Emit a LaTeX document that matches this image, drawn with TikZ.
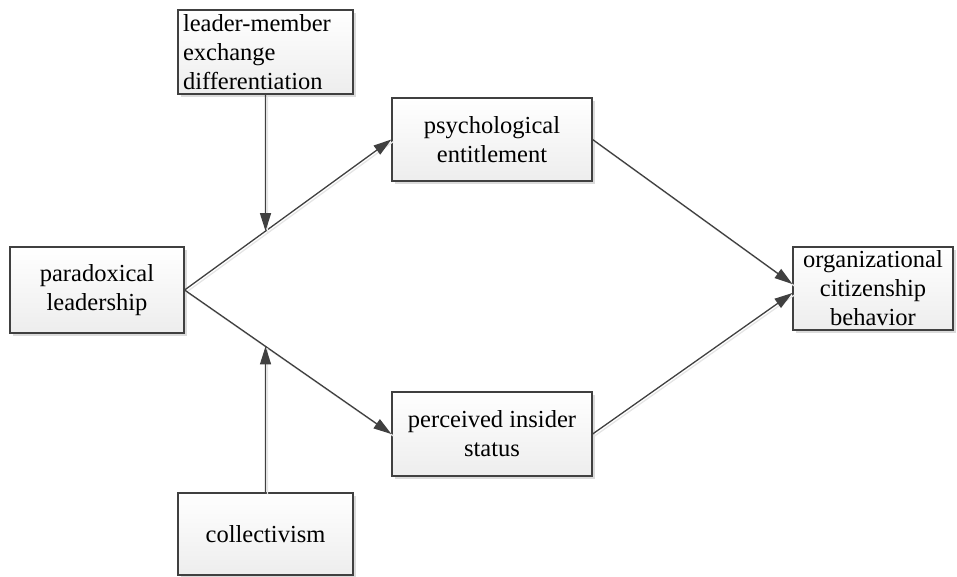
\documentclass[tikz,border=0pt]{standalone}
\usepackage{fontspec}
\setmainfont{Liberation Serif}
\usetikzlibrary{arrows.meta,shadows,calc}
\definecolor{edge}{HTML}{404040}
\tikzset{
  box/.style={draw=edge, line width=1.2pt, top color=white, bottom color=black!7,
    drop shadow={shadow xshift=3pt, shadow yshift=-3pt, fill=black!14, opacity=1},
    inner sep=0pt, align=center, font=\fontsize{24.5}{29}\selectfont},
  conn/.style={draw=edge, line width=1.3pt, -{Triangle[length=18pt,width=11pt]},
    preaction={draw=black!10, line width=1.3pt, transform canvas={shift={(2pt,-2pt)}}, -}},
}
\begin{document}
\begin{tikzpicture}[x=1pt,y=-1pt]
\useasboundingbox (0,0) rectangle (957,576);
\node[box, inner xsep=5pt, text width=165pt, minimum height=84pt, align=left] (L) at (265.5,52)
  {leader-member\\exchange\\differentiation};
\node[box, minimum width=174pt, minimum height=86pt] (P) at (97,290) {paradoxical\\leadership};
\node[box, minimum width=200pt, minimum height=83pt] (E) at (492,139.5) {psychological\\entitlement};
\node[box, minimum width=200pt, minimum height=84pt] (S) at (492,434) {perceived insider\\status};
\node[box, minimum width=160pt, minimum height=83pt] (O) at (873,288.5) {organizational\\citizenship\\behavior};
\node[box, minimum width=175pt, minimum height=82pt] (C) at (265.5,534) {collectivism};
\coordinate (ju) at (intersection of P.east--E.west and L.south--C.north);
\coordinate (jl) at (intersection of P.east--S.west and L.south--C.north);
\draw[conn] (P.east) -- (E.west);
\draw[conn] (P.east) -- (S.west);
\draw[conn] (E.east) -- ([yshift=4.5pt]O.west);
\draw[conn] (S.east) -- ([yshift=-4.5pt]O.west);
\draw[conn] (L.south) -- (ju);
\draw[conn] (C.north) -- (jl);
\end{tikzpicture}
\end{document}
